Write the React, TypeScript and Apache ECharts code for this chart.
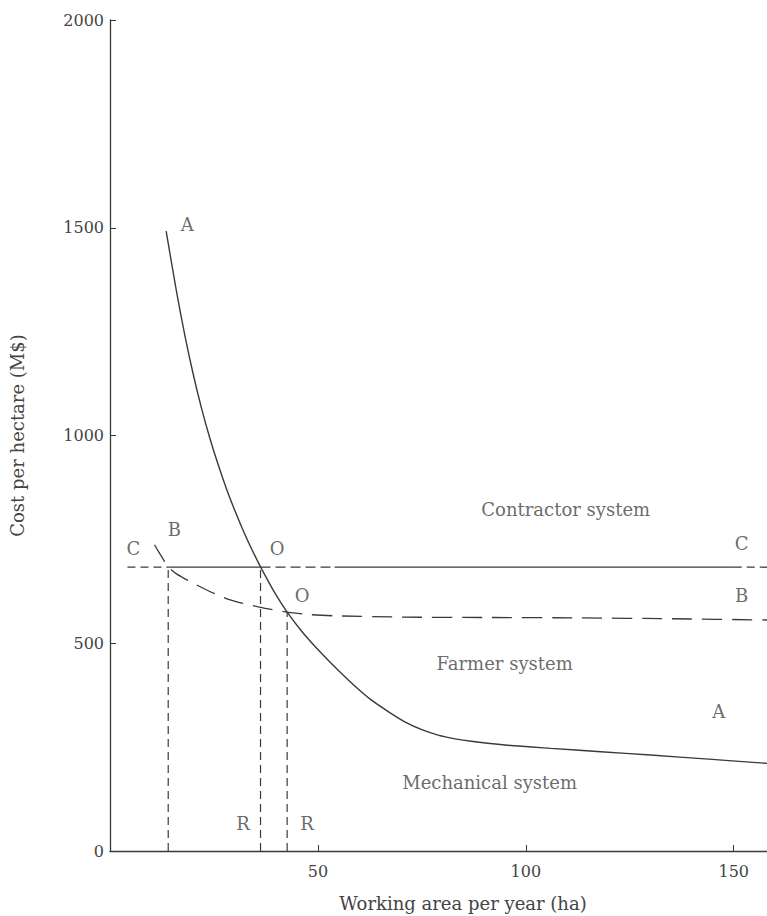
import React, { useEffect, useRef } from "react";
import * as echarts from "echarts";

// Curve A: mechanical system
const xA = [13.5, 16, 18, 20, 22, 24, 26, 28, 30, 32, 34, 36.2, 40, 42.6, 46, 48.6, 52, 55, 59, 62.9, 67, 70.9, 75, 78.9, 83, 86.9, 95, 106, 118, 130, 144, 158];
const yA = [1492, 1346, 1241, 1148, 1066, 994, 930, 872, 820, 772, 728, 684, 615, 575, 530, 500, 464, 434, 396, 363, 335, 311, 292, 279, 270, 264, 255, 247, 239, 231, 221, 211];

// Curve B: farmer system
const xB = [10.7, 12, 13, 14, 16, 19, 23.5, 28.7, 35.9, 42.6, 48, 54, 70, 90, 113, 135, 158];
const yB = [737, 715, 699, 684, 667, 650, 627, 605, 587, 575, 569, 566, 563, 562, 561, 559, 556];

// Line C: contractor system (constant cost)
const cCost = 683;
const xCStart = 4.2;
const xCEnd = 158;

// Break-even points
const xBreak = [14.0, 36.2, 42.6];
const yBreak = [683, 683, 575];

// Axis ticks
const xTicks = [50, 100, 150];
const yTicks = [0, 500, 1000, 1500, 2000];

// Annotations
const annoText = ["A", "A", "B", "B", "C", "C", "O", "O", "R", "R", "Contractor system", "Farmer system", "Mechanical system"];
const annoX = [18.6, 146.4, 15.5, 151.9, 5.6, 151.9, 40.2, 46.2, 32.0, 47.4, 109.6, 94.9, 91.3];
const annoY = [1507, 335, 773, 614, 729, 741, 729, 616, 67, 67, 823, 452, 166];

const INK = "#3a3a3a";
const TEXT = "#444444";
const FONT = "DejaVu Serif";

export default function App() {
  const ref = useRef<HTMLDivElement>(null);
  useEffect(() => {
    document.body.style.margin = "0";
    const chart = echarts.init(ref.current!, null, { renderer: "svg" });
    const pts = (xs: number[], ys: number[]) => xs.map((x, i) => [x, ys[i]]);
    const segLine = (data: number[][], type: any, width = 1.3) => ({
      type: "line",
      data,
      symbol: "none",
      silent: true,
      lineStyle: { color: INK, width, type },
    });
    const series: any[] = [
      {
        type: "line",
        data: pts(xA, yA),
        symbol: "none",
        smooth: 0.25,
        lineStyle: { color: INK, width: 1.4 },
      },
      {
        type: "line",
        data: pts(xB, yB),
        symbol: "none",
        smooth: 0.25,
        lineStyle: { color: INK, width: 1.3, type: [20, 10] },
      },
      segLine([[xCStart, cCost], [xBreak[0], cCost]], [8, 5]),
      segLine([[xBreak[0], cCost], [xBreak[1], cCost]], "solid"),
      segLine([[xBreak[1], cCost], [54, cCost]], [10, 5]),
      segLine([[54, cCost], [150, cCost]], "solid"),
      segLine([[150, cCost], [xCEnd, cCost]], [8, 5]),
      ...xBreak.map((x, i) => segLine([[x, 0], [x, yBreak[i]]], [8, 5], 1.2)),
      {
        type: "scatter",
        symbolSize: 0,
        silent: true,
        data: annoText.map((t, i) => ({ name: t, value: [annoX[i], annoY[i]] })),
        label: {
          show: true,
          position: "inside",
          formatter: (p: any) => p.name,
          color: TEXT,
          fontFamily: FONT,
          fontSize: 18,
        },
      },
    ];
    chart.setOption({
      animation: false,
      backgroundColor: "#ffffff",
      grid: { left: 107.5, top: 20, right: 0, bottom: 65, containLabel: false },
      xAxis: {
        type: "value",
        min: 0,
        max: 158,
        interval: 50,
        splitLine: { show: false },
        axisLine: { lineStyle: { color: INK, width: 1.3 } },
        axisTick: { inside: true, length: 6, customValues: xTicks, lineStyle: { color: INK } },
        axisLabel: {
          customValues: xTicks,
          margin: 12,
          color: TEXT,
          fontFamily: FONT,
          fontSize: 16,
          formatter: (v: number) => String(v),
        },
      },
      yAxis: {
        type: "value",
        min: 0,
        max: 2000,
        interval: 500,
        name: "Cost per hectare (M$)",
        nameLocation: "middle",
        nameGap: 84,
        nameRotate: 90,
        nameTextStyle: { color: TEXT, fontFamily: FONT, fontSize: 18 },
        splitLine: { show: false },
        axisLine: { show: true, lineStyle: { color: INK, width: 1.3 } },
        axisTick: { show: true, inside: true, length: 6, customValues: yTicks, lineStyle: { color: INK } },
        axisLabel: {
          customValues: yTicks,
          margin: 6,
          color: TEXT,
          fontFamily: FONT,
          fontSize: 16,
          formatter: (v: number) => String(v),
        },
      },
      graphic: [
        {
          type: "text",
          x: 463,
          y: 903,
          style: {
            text: "Working area per year (ha)",
            fill: TEXT,
            font: `18px "${FONT}"`,
            textAlign: "center",
            textVerticalAlign: "middle",
          },
        },
      ],
      series,
    });
    return () => chart.dispose();
  }, []);
  return (
    <div
      ref={ref}
      style={{ position: "fixed", left: 0, top: 0, width: 767, height: 916, background: "#fff" }}
    />
  );
}
